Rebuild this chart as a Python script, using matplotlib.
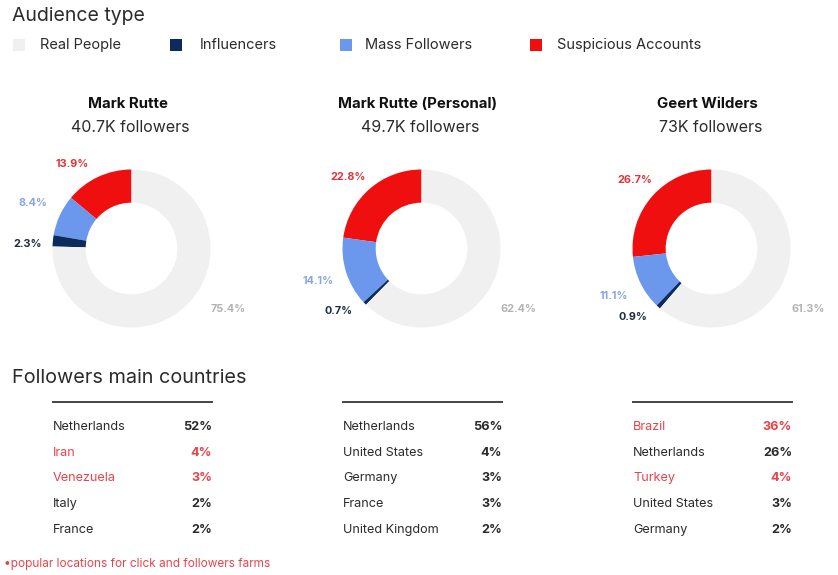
import numpy as np
import matplotlib
matplotlib.use("Agg")
import matplotlib.pyplot as plt
from matplotlib.patches import Rectangle

plt.rcParams['font.family'] = ['Inter', 'DejaVu Sans']

# audience data
accounts = ['Mark Rutte', 'Mark Rutte (Personal)', 'Geert Wilders']
followers = ['40.7K followers', '49.7K followers', '73K followers']
segments = ['Suspicious Accounts', 'Mass Followers', 'Influencers', 'Real People']
suspicious = [13.9, 22.8, 26.7]
mass = [8.4, 14.1, 11.1]
influencers = [2.3, 0.7, 0.9]
real = [75.4, 62.4, 61.3]

# countries data
countries = [
    ['Netherlands', 'Iran', 'Venezuela', 'Italy', 'France'],
    ['Netherlands', 'United States', 'Germany', 'France', 'United Kingdom'],
    ['Brazil', 'Netherlands', 'Turkey', 'United States', 'Germany'],
]
shares = [
    [52, 4, 3, 2, 2],
    [56, 4, 3, 3, 2],
    [36, 26, 4, 3, 2],
]
farm_countries = ['Iran', 'Venezuela', 'Brazil', 'Turkey']

W, H = 838, 575
C_RED = '#ef0f0f'
C_BLUE = '#6b97ec'
C_NAVY = '#0c2a5c'
C_GRAY = '#f0f0f0'
seg_colors = [C_RED, C_BLUE, C_NAVY, C_GRAY]
lab_colors = ['#e0343a', '#8aa5e4', '#1e2b48', '#b3b3b3']
TXT = '#2b2b2b'
RED_TXT = '#e8434a'

fig = plt.figure(figsize=(W / 100, H / 100), dpi=100)
fig.patch.set_facecolor('white')


def px(x, y):
    return x / W, 1 - y / H


# header + legend
fig.text(*px(12, 16), 'Audience type', fontsize=14, color=TXT, va='center')
legend_items = [('Real People', C_GRAY, 13, 40), ('Influencers', C_NAVY, 170, 200),
                ('Mass Followers', C_BLUE, 340, 365), ('Suspicious Accounts', C_RED, 530, 557)]
for name, col, sx, tx in legend_items:
    x0, y0 = px(sx, 51)
    fig.patches.append(Rectangle((x0, y0), 12 / W, 12 / H, transform=fig.transFigure,
                                 facecolor=col, edgecolor='none'))
    fig.text(*px(tx, 45), name, fontsize=10.5, color=TXT, va='center')

# donuts
centers = [131.5, 421.5, 711.5]
CY = 248.5
R = 79
LIM = 1.6
nudge_red = [10, 5, 0]
nudge_dark = [3, -7, -7]
for i, cx in enumerate(centers):
    fig.text(*px(cx - 4, 104), accounts[i], fontsize=10.8, fontweight='bold',
             color='#111111', ha='center', va='center')
    fig.text(*px(cx - 1, 128), followers[i], fontsize=11.5, color=TXT, ha='center', va='center')

    size = 2 * LIM * R
    ax = fig.add_axes([(cx - LIM * R) / W, 1 - (CY + LIM * R) / H, size / W, size / H])
    vals = [suspicious[i], mass[i], influencers[i], real[i]]
    ax.pie(vals, colors=seg_colors, startangle=90, counterclock=True, radius=1,
           wedgeprops=dict(width=0.42, edgecolor='none'))
    ax.set_xlim(-LIM, LIM)
    ax.set_ylim(-LIM, LIM)
    ax.set_aspect('equal')
    ax.axis('off')

    bounds = 90 + np.concatenate([[0], np.cumsum(vals)]) * 3.6
    mids = (bounds[:-1] + bounds[1:]) / 2
    angles = [mids[0] + nudge_red[i], mids[1], mids[2] + nudge_dark[i], -32]
    radii = [1.3, 1.37, 1.32, 1.44]
    for k in range(4):
        a = np.deg2rad(angles[k])
        ax.text(radii[k] * np.cos(a), radii[k] * np.sin(a), f'{vals[k]}%',
                fontsize=7.8, fontweight='bold', color=lab_colors[k],
                ha='center', va='center', clip_on=False)

# country tables
fig.text(*px(12, 378), 'Followers main countries', fontsize=14.3, color=TXT, va='center')
table_left = [53, 343, 633]
TW = 159
row_y = [427, 453, 478, 504, 530]
for t in range(3):
    x0 = table_left[t]
    fig.add_artist(plt.Line2D([x0 / W, (x0 + TW) / W], [1 - 402 / H, 1 - 402 / H],
                              color='#444444', lw=1.4, transform=fig.transFigure))
    for r, (c, s) in enumerate(zip(countries[t], shares[t])):
        col = RED_TXT if c in farm_countries else TXT
        fig.text(*px(x0, row_y[r]), c, fontsize=9.1, color=col, va='center')
        fig.text(*px(x0 + TW, row_y[r]), f'{s}%', fontsize=9.1, fontweight='bold',
                 color=col, ha='right', va='center')

fig.text(*px(4, 564), '\u2022popular locations for click and followers farms',
         fontsize=8.5, color=RED_TXT, va='center')

fig.savefig('out.png', dpi=100, facecolor='white')
